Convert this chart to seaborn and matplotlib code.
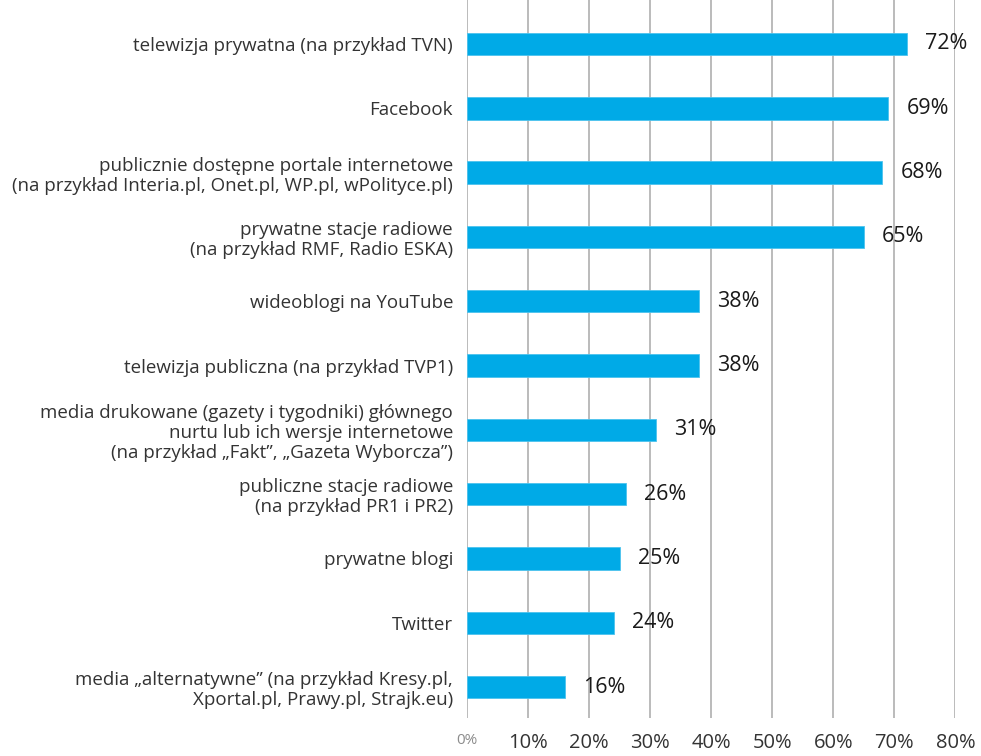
import pandas as pd
import matplotlib
matplotlib.use('Agg')
import matplotlib.pyplot as plt
import seaborn as sns

categories = [
    'telewizja prywatna (na przykład TVN)',
    'Facebook',
    'publicznie dostępne portale internetowe\n(na przykład Interia.pl, Onet.pl, WP.pl, wPolityce.pl)',
    'prywatne stacje radiowe\n(na przykład RMF, Radio ESKA)',
    'wideoblogi na YouTube',
    'telewizja publiczna (na przykład TVP1)',
    'media drukowane (gazety i tygodniki) głównego\nnurtu lub ich wersje internetowe\n(na przykład „Fakt”, „Gazeta Wyborcza”)',
    'publiczne stacje radiowe\n(na przykład PR1 i PR2)',
    'prywatne blogi',
    'Twitter',
    'media „alternatywne” (na przykład Kresy.pl,\nXportal.pl, Prawy.pl, Strajk.eu)',
]
values = [72, 69, 68, 65, 38, 38, 31, 26, 25, 24, 16]
x_ticks = [0, 10, 20, 30, 40, 50, 60, 70, 80]

df = pd.DataFrame({'kategoria': categories, 'procent': values})

sns.set_style('white')
plt.rcParams['font.family'] = ['Open Sans', 'DejaVu Sans']

fig = plt.figure(figsize=(9.81, 7.56), dpi=100)
ax = fig.add_axes([0.476, 0.0503, 0.498, 0.9497])

for x in x_ticks:
    ax.axvline(x, color='#b5b5b5', linewidth=1.3, zorder=0)

sns.barplot(data=df, x='procent', y='kategoria', orient='h', color='#00aae7',
            saturation=1, width=0.35, edgecolor='#4cc3ee', linewidth=0.6,
            ax=ax, zorder=2)

for i, v in enumerate(values):
    ax.annotate(f'{v}%', xy=(v, i), xytext=(13, 0), textcoords='offset points',
                va='center', ha='left', fontsize=15.5, color='#1a1a1a',
                annotation_clip=False)

ax.set_xlim(0, 80)
ax.set_ylim(10.48, -0.684)
ax.set_xticks(x_ticks)
ax.set_xticklabels([f'{t}%' for t in x_ticks])
ax.tick_params(axis='x', length=0, pad=11, labelsize=14.5, labelcolor='#333333')
ax.tick_params(axis='y', length=0, pad=10, labelsize=13.5, labelcolor='#333333')
for lbl in ax.get_yticklabels():
    lbl.set_linespacing(1.15)
first = ax.get_xticklabels()[0]
first.set_fontsize(11)
first.set_color('#8c8c8c')
ax.set_xlabel('')
ax.set_ylabel('')
for s in ax.spines.values():
    s.set_visible(False)

plt.savefig('out.png', dpi=100)
plt.close()
